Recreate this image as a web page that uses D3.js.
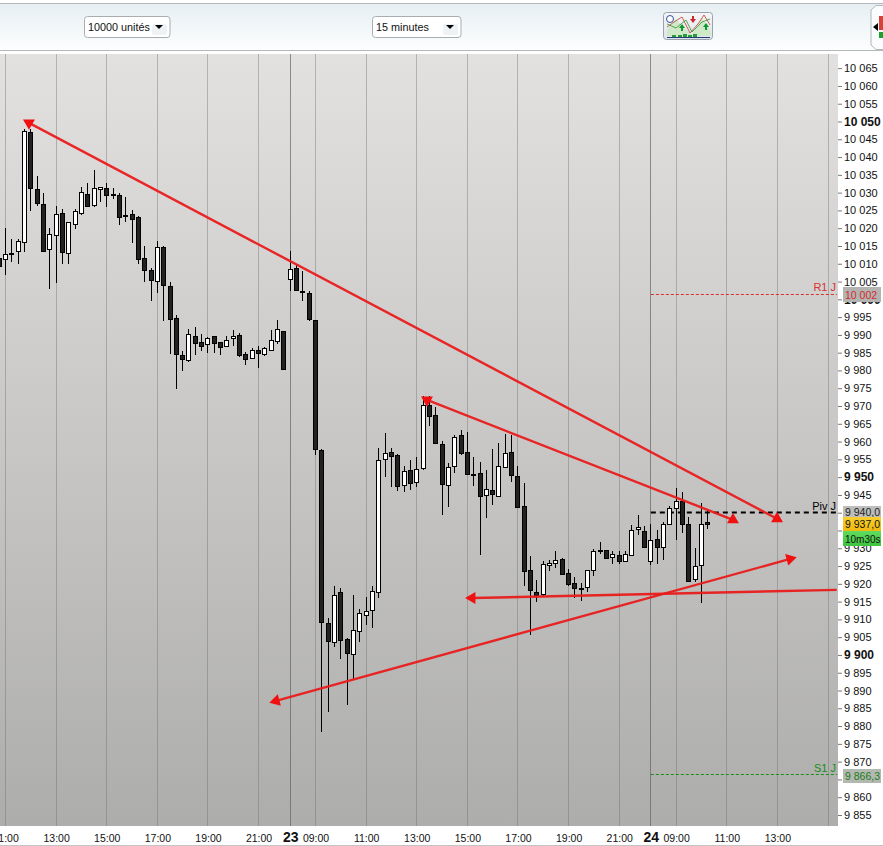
<!DOCTYPE html>
<html><head><meta charset="utf-8">
<script src="https://cdn.jsdelivr.net/npm/d3@7"></script>
<style>html,body{margin:0;padding:0;background:#fff;overflow:hidden}svg{display:block;font-family:"Liberation Sans",Arial,sans-serif}</style>
</head><body><div id="c"></div>
<script>
const highs=[10013,10020,10017.1,10017.1,10047.8,10048,10034.6,10030,10020,10026.1,10025.4,10021.6,10025.5,10031.7,10032.6,10036.5,10031.4,10032.6,10031.4,10029.9,10028.7,10025,10023.3,10014.9,10008.7,10016.5,10015,10005,9995.5,9985.6,9991.6,9992.1,9990.2,9989.3,9989.7,9988.1,9989.8,9991.5,9990.4,9985.1,9986.2,9986.8,9986.5,9991.5,9994.1,9991,10013.5,10009.6,10008,10002.2,9994.1,9957.9,9910.3,9919.4,9918.7,9904.7,9916.9,9912.8,9916.4,9919.3,9958.1,9962.4,9958.1,9956.5,9953,9954.9,9955.7,9972.9,9972.9,9969.7,9960.1,9953.9,9961.8,9963.2,9962.6,9955.6,9954.2,9952,9957.9,9959.7,9962.2,9961.8,9953.1,9948.3,9927.8,9921.1,9926.4,9926.7,9929.3,9927.2,9924.1,9921.9,9920.2,9923.8,9929.7,9931.7,9929.5,9929.2,9929.2,9929.2,9936.5,9939.4,9936.2,9936.9,9935.1,9937.3,9941.8,9946.9,9945.8,9938.7,9930,9942.7,9940.7];
const lows=[10008,10006.8,10010.4,10009.9,10013.3,10024.8,10026.2,10013.4,10002.9,10004.6,10009.9,10009.9,10019.7,10023.8,10026,10026,10027.3,10026,10028.1,10020.9,10021.8,10015.8,10009.9,10004.8,9999.5,10001.9,9994,9984.6,9974.7,9979.9,9982.4,9984.3,9985.4,9984.8,9984.9,9984.3,9986.6,9986.8,9983.9,9981.5,9983.1,9980.7,9984.2,9985.4,9987.4,9980.3,10002.4,10002.5,9999.4,9993.8,9956.1,9878.2,9884.1,9902.1,9898.9,9885.8,9893.2,9903.7,9908.4,9907.6,9916.1,9950.1,9947.1,9946.2,9945.7,9946.5,9947.1,9952.1,9964.5,9959.5,9939.4,9941.6,9951.3,9956.1,9950.5,9947.5,9928.1,9938.6,9942.1,9944.5,9952.5,9948.5,9941.2,9919.4,9905.7,9915,9916.4,9923.7,9924.4,9922.4,9919.5,9916.1,9915.3,9917.8,9922.3,9928.3,9926.9,9925.7,9925.7,9926.3,9927.8,9933.6,9930.3,9925.2,9925.7,9926.8,9936.5,9932.4,9934.2,9920.6,9920.4,9914.7,9935.5];
const opens=[10011.5,10011.2,10012.9,10013.4,10015.9,10046.9,10030.9,10026.7,10014,10018,10024.1,10012.8,10021,10024,10029.5,10026.4,10030.8,10031.2,10029.5,10029.2,10023.6,10023.9,10023,10011.5,10008.1,10004.9,10014.7,10003.6,9994.6,9984.2,9982.7,9989.6,9987.9,9987.3,9989.6,9987.9,9986.8,9988.9,9989.8,9984.4,9983.3,9985.6,9984.4,9985.6,9988.1,9991,10005.5,10008.7,10002.3,10001.7,9994.1,9957.5,9908.9,9903.7,9917.6,9904.4,9900.2,9906.6,9911.3,9912.5,9917.6,9955,9957,9956.2,9947.7,9951.9,9948.6,9952.4,9970.2,9967.4,9959.3,9947.7,9953.1,9961.8,9957,9950.8,9951.1,9944.8,9946.3,9944.8,9952.8,9957,9950.3,9941.8,9923.8,9917.6,9917.2,9925.1,9925.8,9926.9,9922.9,9920.2,9918.8,9919,9923.8,9929.5,9929.5,9927.5,9928.1,9926.4,9928.1,9935.4,9934.8,9926.4,9932.5,9930.3,9936.8,9941.3,9943.2,9936.8,9921.3,9925.2,9937.3];
const closes=[10009.2,10012.6,10012.5,10016.3,10047.2,10031.2,10026.9,10013.6,10018.1,10023.9,10013.1,10021.6,10024.7,10030,10026.1,10031.2,10031.4,10029.1,10029.3,10023,10023.2,10022.6,10011.2,10008,10005.2,10014.6,10003.9,9994.2,9984.5,9983,9990,9987.5,9986.9,9988.9,9987.5,9986.4,9988.4,9989.6,9984.1,9983.1,9985.6,9984.8,9986.2,9988.4,9991.5,9980.3,10008.4,10002.5,10001.9,9994.3,9957.9,9909.1,9903.7,9916.8,9904,9900.4,9906.9,9911.7,9912.3,9917.9,9954.8,9956.7,9955.9,9947.5,9951.7,9948.3,9952.2,9970.2,9967.1,9959.5,9948,9952.8,9961.2,9956.6,9950.8,9950.5,9944.6,9946.6,9945.2,9953.1,9956.7,9950.5,9941.7,9923.4,9918.2,9916.7,9925.5,9925.8,9926.6,9922.6,9919.8,9918.8,9918.4,9923.8,9929.2,9929.1,9927.2,9928.3,9926.4,9928.3,9935.1,9935.9,9930.3,9932.3,9930.3,9936.8,9941.3,9943.2,9936.8,9920.9,9925,9936.8,9936.8];
const timeIndex=[1,9,17,25,33,41,46,50,58,66,74,82,90,98,103,107,115,123,131];
const timeLabels=["11:00","13:00","15:00","17:00","19:00","21:00","23","09:00","11:00","13:00","15:00","17:00","19:00","21:00","24","09:00","11:00","13:00",""];
const dayIndex=[46,103];
const priceTicks=d3.range(9855,10066,5);
const boldPrices=[9900,9950,10000,10050];
const levelStart=103, levelEnd=132.4;
const levelNames=["R1 J","Piv J","S1 J"];
const levelValues=[10001.4,9940,9866.3];
const levelColors=["#d83030","#000000","#168f16"];
const trendLines=[[[4.71,10049.6],[122.94,9938.3]],[[67.62,9971.7],[115.98,9938]],[[43.75,9887.1],[125,9927]],[[132.37,9918.3],[74.73,9916]]];
const headAngles=[[180,0],[180,0],[-105,75],[null,-90]];

const W=883,H=846,plotTop=54,plotBottom=826,plotRight=838;
const x=d3.scaleLinear().domain([1,131]).range([5.5,828]);
const y=d3.scaleLinear().domain([10050,9855]).range([121.5,815]);
const px=v=>Math.floor(v)+.5;
const svg=d3.select("#c").append("svg").attr("width",W).attr("height",H);
const defs=svg.append("defs");
function grad(id,stops){const g=defs.append("linearGradient").attr("id",id).attr("x1",0).attr("x2",0).attr("y1",0).attr("y2",1);
  stops.forEach(s=>g.append("stop").attr("offset",s[0]).attr("stop-color",s[1]));}
grad("plotBg",[[0,"#e3e1e0"],[1,"#adadab"]]);
grad("barBg",[[0,"#e6eff3"],[1,"#fdfefe"]]);
grad("iconBg",[[0,"#f4f6f8"],[1,"#dfe4ea"]]);
grad("yellow",[[0,"#f7cf2e"],[1,"#efb90f"]]);
grad("green",[[0,"#5fdc5f"],[1,"#3ec43e"]]);
defs.append("clipPath").attr("id","plotClip").append("rect").attr("x",0).attr("y",plotTop).attr("width",plotRight).attr("height",plotBottom-plotTop);

// toolbar
svg.append("rect").attr("width",W).attr("height",3).attr("fill","#fff");
svg.append("rect").attr("y",4).attr("width",W).attr("height",46).attr("fill","url(#barBg)");
svg.append("line").attr("x1",0).attr("x2",W).attr("y1",3.5).attr("y2",3.5).attr("stroke","#b4b8ba");
svg.append("line").attr("x1",0).attr("x2",W).attr("y1",50.5).attr("y2",50.5).attr("stroke","#b4b8ba");
[[84.5,85.5,"10000 unités",159],[372.5,88.5,"15 minutes",450]].forEach(d=>{
  svg.append("rect").attr("x",d[0]).attr("y",16.5).attr("width",d[1]).attr("height",21).attr("rx",3).attr("fill","#fff").attr("stroke","#a9adb0");
  svg.append("rect").attr("x",d[3]-7).attr("y",24).attr("width",15).attr("height",11).attr("rx",2).attr("fill","#eef2f5");
  svg.append("text").attr("x",d[0]+3.5).attr("y",31).attr("font-size",10.8).attr("fill","#111").text(d[2]);
  svg.append("path").attr("d",`M${d[3]-4},25h8l-4,4z`).attr("fill","#000");
});
const ic=svg.append("g");
ic.append("rect").attr("x",663.5).attr("y",12.5).attr("width",49).attr("height",27).attr("rx",3).attr("fill","url(#iconBg)").attr("stroke","#9aa3ad");
ic.append("path").attr("d","M667,30L676,19L684,28L692,35L702,18L711,32L711,36L667,36Z").attr("fill","#cfe8c8");
ic.append("path").attr("d","M667,27L674,22L682,17L690,33L698,24L704,15L710,25").attr("fill","none").attr("stroke","#c0392b").attr("stroke-width",.8);
ic.append("path").attr("d","M667,24L676,28L686,20L692,32L702,22L710,19").attr("fill","none").attr("stroke","#2f8f2f").attr("stroke-width",.8);
ic.append("circle").attr("cx",670).attr("cy",19).attr("r",3.5).attr("fill","#fff").attr("stroke","#2c4f9e");
ic.append("path").attr("d","M681,31v-3h-2l3,-4l3,4h-2v3z M705,30v-3h-2l3,-4l3,4h-2v3z").attr("fill","#0c9a2c");
ic.append("path").attr("d","M692,16v3h-2l3,4l3,-4h-2v-3z").attr("fill","#d3232a");
ic.append("path").attr("d","M672,37v-2h4v2z M678,37v-2h4v2z M683,37v-3h4v3z M688,37v-2h4v2z M693,37v-3h4v3z").attr("fill","#2a9a3a");
ic.append("line").attr("x1",667).attr("x2",710).attr("y1",37.5).attr("y2",37.5).attr("stroke","#223a7a");
const rb=svg.append("g");
rb.append("path").attr("d","M883,5.5H876L871,10V45L876,49.5H883").attr("fill","#fbfcfd").attr("stroke","#b4b8ba");
rb.append("path").attr("d","M873,27l5,-4v8z").attr("fill","#000");
rb.append("path").attr("d","M879,16h4v14h-4z").attr("fill","#d8403a");
rb.append("path").attr("d","M879,32h4v6h-4z").attr("fill","#17a32c");

// plot
svg.append("rect").attr("x",0).attr("y",plotTop).attr("width",plotRight).attr("height",plotBottom-plotTop).attr("fill","url(#plotBg)");
const plot=svg.append("g").attr("clip-path","url(#plotClip)");
plot.selectAll("line.grid").data(timeIndex).join("line").attr("class","grid")
  .attr("x1",d=>px(x(d))).attr("x2",d=>px(x(d))).attr("y1",plotTop).attr("y2",plotBottom)
  .attr("stroke",d=>dayIndex.includes(d)?"#5c5c5c":"#6c6c6c").attr("stroke-opacity",d=>dayIndex.includes(d)?.65:.4).attr("stroke-width",1);

// levels
plot.selectAll("line.level").data(levelValues).join("line").attr("class","level")
  .attr("x1",x(levelStart)).attr("x2",x(levelEnd)).attr("y1",d=>px(y(d))).attr("y2",d=>px(y(d)))
  .attr("stroke",(d,i)=>levelColors[i]).attr("stroke-width",(d,i)=>i==1?2:1).attr("stroke-dasharray",(d,i)=>i==1?"5,4":"3,2");
levelValues.forEach((v,i)=>svg.append("text").attr("x",836).attr("y",y(v)-3).attr("text-anchor","end").attr("font-size",11).attr("fill",levelColors[i]).text(levelNames[i]));

// candles
const idx=d3.range(highs.length);
plot.selectAll("line.wick").data(idx).join("line").attr("class","wick")
  .attr("x1",i=>px(x(i))).attr("x2",i=>px(x(i))).attr("y1",i=>Math.round(y(highs[i]))).attr("y2",i=>Math.round(y(lows[i]))).attr("stroke","#000").attr("stroke-width",1);
plot.selectAll("rect.body").data(idx).join("rect").attr("class","body")
  .attr("x",i=>px(x(i))-2).attr("width",4)
  .attr("y",i=>px(y(Math.max(opens[i],closes[i]))))
  .attr("height",i=>Math.max(1,Math.round(Math.abs(y(opens[i])-y(closes[i])))))
  .attr("fill",i=>closes[i]>=opens[i]?"#fff":"#222").attr("stroke","#000").attr("stroke-width",1);

// trend arrows
const tri=d3.symbol().type(d3.symbolTriangle).size(62);
trendLines.forEach((l,k)=>{
  svg.append("line").attr("x1",x(l[0][0])).attr("y1",y(l[0][1])).attr("x2",x(l[1][0])).attr("y2",y(l[1][1]))
    .attr("stroke","#ea1c1c").attr("stroke-width",2.4).attr("opacity",.95);
  l.forEach((p,j)=>{ if(headAngles[k][j]===null) return;
    svg.append("path").attr("d",tri()).attr("fill","#f01010")
      .attr("transform",`translate(${x(p[0])},${y(p[1])}) rotate(${headAngles[k][j]})`);
  });
});

// axes
const fr=d3.formatLocale({decimal:",",thousands:"\u00a0",grouping:[3],currency:["",""]});
const yAxis=d3.axisRight(y).tickValues(priceTicks).tickSize(4).tickPadding(2).tickFormat(fr.format(",d"));
const ya=svg.append("g").attr("transform",`translate(${plotRight},0)`).call(yAxis);
ya.select(".domain").remove();
ya.selectAll(".tick line").attr("stroke","#777");
ya.selectAll(".tick text").attr("fill","#111").attr("font-family","Liberation Sans")
  .attr("font-size",d=>boldPrices.includes(d)?12:11).attr("font-weight",d=>boldPrices.includes(d)?"bold":"normal");
const xAxis=d3.axisBottom(x).tickValues(timeIndex).tickSize(0).tickPadding(0).tickFormat((d,i)=>timeLabels[i]);
const xa=svg.append("g").attr("transform",`translate(0,${plotBottom+8})`).call(xAxis);
xa.select(".domain").remove();
xa.selectAll(".tick text").attr("fill","#111").attr("font-family","Liberation Sans")
  .attr("font-size",d=>dayIndex.includes(d)?14:10.5).attr("font-weight",d=>dayIndex.includes(d)?"bold":"normal")
  .attr("dy",d=>dayIndex.includes(d)?"0.55em":"0.75em");
svg.append("line").attr("x1",0).attr("x2",W).attr("y1",845.5).attr("y2",845.5).attr("stroke","#c4c4c4");

// value tags
const tags=[["10 002",287,15,"#b3b3b1","#d62828",10.5],["9 940,0",506,12,"#bdbdbb","#222",10.5],["9 866,3",769,14,"#b3b8b0","#1c7c1c",10.5],["9 937,0",517,14,"url(#yellow)","#111",10.5],["10m30s",531,15,"url(#green)","#111",10]];
tags.forEach(t=>{
  svg.append("rect").attr("x",843).attr("y",t[1]).attr("width",38).attr("height",t[2]).attr("fill",t[3]);
  svg.append("text").attr("x",845).attr("y",t[1]+t[2]/2+4).attr("font-size",t[5]).attr("fill",t[4]).text(t[0]);
});
</script></body></html>
